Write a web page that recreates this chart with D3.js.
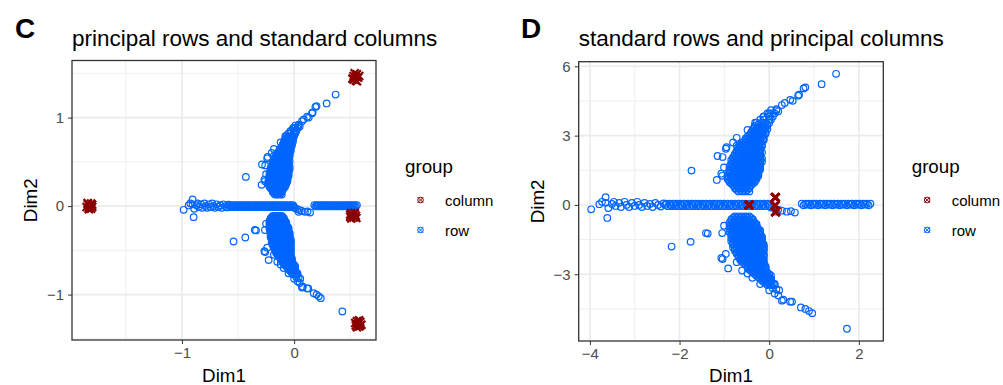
<!DOCTYPE html>
<html>
<head>
<meta charset="utf-8">
<script src="https://cdn.jsdelivr.net/npm/d3@7"></script>
<style>
    body { margin: 0; background: #fff; }
    svg text { font-family: "Liberation Sans", Arial, Helvetica, sans-serif; }
</style>
</head>
<body>
<div id="chart"></div>
<script>
// Singular values (sqrt eigenvalues) of dim1 / dim2 -- principal = standard * sv
const singularValues = [0.248, 0.222];

// Row principal coordinates (panel C), dense parts kept as scanlines [dim2, [dim1...]]
const upperArmRows = [
    [0.13, [-0.17, -0.15, -0.13, -0.11]],
    [0.145, [-0.18, -0.16, -0.14, -0.12]],
    [0.16, [-0.19, -0.17, -0.15, -0.13, -0.11]],
    [0.175, [-0.19, -0.17, -0.15, -0.13, -0.11]],
    [0.19, [-0.20, -0.18, -0.16, -0.14, -0.12, -0.10]],
    [0.205, [-0.21, -0.19, -0.17, -0.15, -0.13, -0.11, -0.09]],
    [0.22, [-0.22, -0.20, -0.18, -0.16, -0.14, -0.12, -0.10, -0.08]],
    [0.235, [-0.22, -0.20, -0.18, -0.16, -0.14, -0.12, -0.10, -0.08]],
    [0.25, [-0.23, -0.21, -0.19, -0.17, -0.15, -0.13, -0.11, -0.09, -0.07]],
    [0.265, [-0.23, -0.21, -0.19, -0.17, -0.15, -0.13, -0.11, -0.09, -0.07]],
    [0.28, [-0.23, -0.21, -0.19, -0.17, -0.15, -0.13, -0.11, -0.09, -0.07, -0.06]],
    [0.295, [-0.22, -0.20, -0.18, -0.16, -0.14, -0.12, -0.10, -0.08, -0.06]],
    [0.31, [-0.22, -0.20, -0.18, -0.16, -0.14, -0.12, -0.10, -0.08, -0.06]],
    [0.325, [-0.22, -0.20, -0.18, -0.16, -0.14, -0.12, -0.10, -0.08, -0.06]],
    [0.34, [-0.22, -0.20, -0.18, -0.16, -0.14, -0.12, -0.10, -0.08, -0.06, -0.05]],
    [0.355, [-0.21, -0.19, -0.17, -0.15, -0.13, -0.11, -0.09, -0.07, -0.05]],
    [0.37, [-0.22, -0.20, -0.18, -0.16, -0.14, -0.12, -0.10, -0.08, -0.06, -0.05]],
    [0.385, [-0.21, -0.19, -0.17, -0.15, -0.13, -0.11, -0.09, -0.07, -0.05]],
    [0.40, [-0.21, -0.19, -0.17, -0.15, -0.13, -0.11, -0.09, -0.07, -0.05]],
    [0.415, [-0.20, -0.18, -0.16, -0.14, -0.12, -0.10, -0.08, -0.06, -0.04]],
    [0.43, [-0.21, -0.19, -0.17, -0.15, -0.13, -0.11, -0.09, -0.07, -0.05]],
    [0.445, [-0.20, -0.18, -0.16, -0.14, -0.12, -0.10, -0.08, -0.06, -0.04]],
    [0.46, [-0.20, -0.18, -0.16, -0.14, -0.12, -0.10, -0.08, -0.06, -0.05]],
    [0.475, [-0.19, -0.17, -0.15, -0.13, -0.11, -0.09, -0.07, -0.05]],
    [0.49, [-0.19, -0.17, -0.15, -0.13, -0.11, -0.09, -0.07, -0.05]],
    [0.505, [-0.18, -0.16, -0.14, -0.12, -0.10, -0.08, -0.06, -0.04]],
    [0.52, [-0.18, -0.16, -0.14, -0.12, -0.10, -0.08, -0.06, -0.05]],
    [0.535, [-0.17, -0.15, -0.13, -0.11, -0.09, -0.07, -0.05]],
    [0.55, [-0.17, -0.15, -0.13, -0.11, -0.09, -0.07, -0.05]],
    [0.565, [-0.16, -0.14, -0.12, -0.10, -0.08, -0.06, -0.04]],
    [0.58, [-0.16, -0.14, -0.12, -0.10, -0.08, -0.06, -0.04]],
    [0.595, [-0.15, -0.13, -0.11, -0.09, -0.07, -0.05]],
    [0.61, [-0.14, -0.12, -0.10, -0.08, -0.06, -0.04]],
    [0.625, [-0.13, -0.11, -0.09, -0.07, -0.05, -0.03]],
    [0.64, [-0.13, -0.11, -0.09, -0.07, -0.05, -0.03]],
    [0.655, [-0.12, -0.10, -0.08, -0.06, -0.04]],
    [0.67, [-0.11, -0.09, -0.07, -0.05, -0.03]],
    [0.685, [-0.10, -0.08, -0.06, -0.04, -0.02]],
    [0.70, [-0.10, -0.08, -0.06, -0.04, -0.02]],
    [0.715, [-0.09, -0.07, -0.05, -0.03]],
    [0.73, [-0.09, -0.07, -0.05, -0.03, -0.01]],
    [0.745, [-0.08, -0.06, -0.04, -0.02]],
    [0.76, [-0.08, -0.05, -0.03, -0.01]],
    [0.775, [-0.06, -0.03, -0.01]],
    [0.79, [-0.07, -0.04, -0.02, 0.00]],
    [0.82, [-0.05, -0.03, 0.00, 0.01]],
    [0.85, [-0.03, 0.00, 0.02]],
    [0.88, [-0.01, 0.01, 0.03]],
    [0.91, [0.01, 0.04]]
];

const lowerArmRows = [
    [-0.11, [-0.19, -0.17, -0.15, -0.13, -0.11]],
    [-0.125, [-0.20, -0.18, -0.16, -0.14, -0.12, -0.10]],
    [-0.14, [-0.21, -0.19, -0.17, -0.15, -0.13, -0.11, -0.09]],
    [-0.155, [-0.21, -0.19, -0.17, -0.15, -0.13, -0.11, -0.09]],
    [-0.17, [-0.22, -0.20, -0.18, -0.16, -0.14, -0.12, -0.10, -0.08]],
    [-0.185, [-0.21, -0.19, -0.17, -0.15, -0.13, -0.11, -0.09, -0.07]],
    [-0.20, [-0.22, -0.20, -0.18, -0.16, -0.14, -0.12, -0.10, -0.08, -0.07]],
    [-0.215, [-0.21, -0.19, -0.17, -0.15, -0.13, -0.11, -0.09, -0.07]],
    [-0.23, [-0.22, -0.20, -0.18, -0.16, -0.14, -0.12, -0.10, -0.08, -0.06]],
    [-0.245, [-0.21, -0.19, -0.17, -0.15, -0.13, -0.11, -0.09, -0.07, -0.05]],
    [-0.26, [-0.22, -0.20, -0.18, -0.16, -0.14, -0.12, -0.10, -0.08, -0.06, -0.05]],
    [-0.275, [-0.21, -0.19, -0.17, -0.15, -0.13, -0.11, -0.09, -0.07, -0.05]],
    [-0.29, [-0.21, -0.19, -0.17, -0.15, -0.13, -0.11, -0.09, -0.07, -0.05]],
    [-0.305, [-0.20, -0.18, -0.16, -0.14, -0.12, -0.10, -0.08, -0.06, -0.04]],
    [-0.32, [-0.21, -0.19, -0.17, -0.15, -0.13, -0.11, -0.09, -0.07, -0.05, -0.04]],
    [-0.335, [-0.20, -0.18, -0.16, -0.14, -0.12, -0.10, -0.08, -0.06, -0.04]],
    [-0.35, [-0.21, -0.19, -0.17, -0.15, -0.13, -0.11, -0.09, -0.07, -0.05, -0.04]],
    [-0.365, [-0.20, -0.18, -0.16, -0.14, -0.12, -0.10, -0.08, -0.06, -0.04]],
    [-0.38, [-0.20, -0.18, -0.16, -0.14, -0.12, -0.10, -0.08, -0.06, -0.04, -0.03]],
    [-0.395, [-0.19, -0.17, -0.15, -0.13, -0.11, -0.09, -0.07, -0.05, -0.03]],
    [-0.41, [-0.20, -0.18, -0.16, -0.14, -0.12, -0.10, -0.08, -0.06, -0.04, -0.03]],
    [-0.425, [-0.19, -0.17, -0.15, -0.13, -0.11, -0.09, -0.07, -0.05, -0.03]],
    [-0.44, [-0.19, -0.17, -0.15, -0.13, -0.11, -0.09, -0.07, -0.05, -0.03]],
    [-0.455, [-0.18, -0.16, -0.14, -0.12, -0.10, -0.08, -0.06, -0.04]],
    [-0.47, [-0.18, -0.16, -0.14, -0.12, -0.10, -0.08, -0.06, -0.04, -0.03]],
    [-0.485, [-0.17, -0.15, -0.13, -0.11, -0.09, -0.07, -0.05, -0.03]],
    [-0.50, [-0.17, -0.15, -0.13, -0.11, -0.09, -0.07, -0.05, -0.03]],
    [-0.515, [-0.16, -0.14, -0.12, -0.10, -0.08, -0.06, -0.04]],
    [-0.53, [-0.16, -0.14, -0.12, -0.10, -0.08, -0.06, -0.04, -0.03]],
    [-0.545, [-0.15, -0.13, -0.11, -0.09, -0.07, -0.05, -0.03]],
    [-0.56, [-0.14, -0.12, -0.10, -0.08, -0.06, -0.04, -0.03]],
    [-0.575, [-0.13, -0.11, -0.09, -0.07, -0.05, -0.03]],
    [-0.59, [-0.12, -0.10, -0.08, -0.06, -0.04, -0.02]],
    [-0.605, [-0.12, -0.10, -0.08, -0.06, -0.04, -0.02]],
    [-0.62, [-0.11, -0.09, -0.07, -0.05, -0.03, -0.02]],
    [-0.635, [-0.10, -0.08, -0.06, -0.04, -0.02]],
    [-0.65, [-0.09, -0.07, -0.05, -0.03, -0.01]],
    [-0.665, [-0.08, -0.06, -0.04, -0.02, 0.00]],
    [-0.68, [-0.07, -0.05, -0.03, -0.01, 0.01]],
    [-0.695, [-0.06, -0.04, -0.02, 0.00]],
    [-0.71, [-0.05, -0.03, -0.01, 0.01]],
    [-0.725, [-0.04, -0.02, 0.00]],
    [-0.74, [-0.03, -0.01, 0.01]],
    [-0.755, [-0.02, 0.00, 0.02]],
    [-0.77, [-0.01, 0.01, 0.03]]
];

const leftBandRows = [
    [0.012, [-0.57, -0.55, -0.53, -0.51, -0.49, -0.47, -0.45, -0.43, -0.41, -0.39, -0.37, -0.35, -0.33, -0.31, -0.29,
             -0.27, -0.25, -0.23, -0.21, -0.19, -0.17, -0.15, -0.13, -0.11, -0.09, -0.07, -0.05, -0.03, -0.01]],
    [0.0, [-0.575, -0.545, -0.515, -0.485, -0.455, -0.425, -0.395, -0.365, -0.335, -0.305, -0.275, -0.245,
           -0.215, -0.185, -0.155, -0.125, -0.095, -0.065, -0.035, -0.005]],
    [-0.012, [-0.56, -0.54, -0.52, -0.50, -0.48, -0.46, -0.44, -0.42, -0.40, -0.38, -0.36, -0.34, -0.32, -0.30, -0.28,
              -0.26, -0.24, -0.22, -0.20, -0.18, -0.16, -0.14, -0.12, -0.10, -0.08, -0.06, -0.04, -0.02, 0.00]]
];

const rightBandRows = [
    [0.012, [0.18, 0.20, 0.22, 0.24, 0.26, 0.28, 0.30, 0.32, 0.34, 0.36, 0.38, 0.40, 0.42, 0.44, 0.46, 0.48, 0.50, 0.52, 0.54, 0.56]],
    [0.002, [0.21, 0.25, 0.29, 0.33, 0.37, 0.41, 0.45, 0.49, 0.53]],
    [-0.004, [0.19, 0.23, 0.27, 0.31, 0.35, 0.39, 0.43, 0.47, 0.51, 0.55]]
];

// Sparse rows [dim1, dim2]
const leftBandSparse = [
    [-0.985, -0.042], [-0.94, 0.007], [-0.925, 0.03], [-0.905, 0.075], [-0.896, -0.125], [-0.905, 0.02],
    [-0.89, -0.03], [-0.87, 0.01], [-0.86, 0.03], [-0.85, -0.01], [-0.83, 0.02], [-0.82, -0.02], [-0.80, 0.03],
    [-0.79, 0.0], [-0.775, -0.02], [-0.76, 0.02], [-0.745, -0.01], [-0.73, 0.03], [-0.72, 0.0], [-0.705, -0.02],
    [-0.69, 0.02], [-0.675, -0.01], [-0.66, 0.01], [-0.645, -0.02], [-0.63, 0.02], [-0.615, 0.0],
    [-0.60, -0.015], [-0.585, 0.015]
];

const bandTaper = [
    [0.01, -0.025], [0.03, -0.035], [0.05, -0.045], [0.04, -0.065], [0.07, -0.055],
    [0.097, -0.065], [0.12, -0.06], [0.142, -0.073]
];

const upperSparse = [
    [-0.43, 0.33], [-0.29, 0.24], [-0.265, 0.30], [-0.286, 0.47], [-0.258, 0.46], [-0.24, 0.54],
    [-0.236, 0.555], [-0.18, 0.645], [-0.18, 0.57], [-0.20, 0.60], [-0.26, 0.28], [-0.25, 0.36],
    [-0.12, 0.72], [-0.078, 0.79], [-0.033, 0.845], [0.0, 0.88], [0.04, 0.92], [0.05, 0.90],
    [0.07, 0.96], [0.086, 0.98], [0.116, 1.01], [0.13, 1.0], [0.16, 1.05], [0.165, 1.06],
    [0.19, 1.12], [0.20, 1.13], [0.29, 1.16], [0.37, 1.26]
];

const lowerSparse = [
    [-0.54, -0.40], [-0.435, -0.355], [-0.34, -0.275], [-0.35, -0.27], [-0.26, -0.27], [-0.25, -0.20],
    [-0.258, -0.52], [-0.24, -0.47], [-0.265, -0.51], [-0.227, -0.61], [-0.15, -0.63], [-0.18, -0.55],
    [-0.093, -0.70], [-0.12, -0.66], [-0.05, -0.76], [0.0, -0.82], [0.03, -0.85], [0.05, -0.87],
    [0.02, -0.80], [0.04, -0.81], [0.055, -0.82], [0.01, -0.72], [0.03, -0.76],
    [0.07, -0.92], [0.078, -0.91], [0.116, -0.93], [0.126, -0.93], [0.175, -0.985], [0.20, -1.0],
    [0.22, -1.02], [0.238, -1.04], [0.43, -1.19]
];

// Column standard coordinates (panel C), four tight clusters
const columnPoints = [
    [-1.84, 0.02], [-1.81, 0.03], [-1.83, -0.02], [-1.80, -0.01], [-1.85, -0.01],
    [-1.82, 0.0], [-1.81, -0.03], [-1.84, 0.035], [-1.83, -0.035], [-1.80, 0.015],
    [0.53, 1.47], [0.56, 1.49], [0.55, 1.42], [0.57, 1.45], [0.52, 1.44],
    [0.54, 1.50], [0.56, 1.41], [0.53, 1.43], [0.58, 1.47], [0.55, 1.46],
    [0.51, -0.08], [0.54, -0.09], [0.50, -0.12], [0.53, -0.13], [0.55, -0.11],
    [0.51, -0.14], [0.54, -0.075], [0.52, -0.10], [0.555, -0.135], [0.50, -0.095],
    [0.56, -1.30], [0.59, -1.31], [0.55, -1.35], [0.58, -1.36], [0.57, -1.33],
    [0.60, -1.34], [0.56, -1.37], [0.58, -1.29], [0.545, -1.32], [0.59, -1.35]
];

const groups = ["column", "row"];
const groupColors = ["#8B0000", "#0066FF"];

// flatten everything into one row list
let rowPrincipal = [];
[upperArmRows, lowerArmRows, leftBandRows, rightBandRows].forEach(block => {
    block.forEach(([y, xs]) => xs.forEach(x => rowPrincipal.push([x, y])));
});
rowPrincipal = rowPrincipal.concat(leftBandSparse, bandTaper, upperSparse, lowerSparse);

const color = d3.scaleOrdinal().domain(groups).range(groupColors);

const svg = d3.select("#chart").append("svg")
    .attr("width", 1003)
    .attr("height", 385);

function drawPanel(cfg) {
    let g = svg.append("g");

    let x = d3.scaleLinear().domain(cfg.xDomain).range([cfg.left, cfg.left + cfg.width]);
    let y = d3.scaleLinear().domain(cfg.yDomain).range([cfg.top + cfg.height, cfg.top]);

    // grid
    g.selectAll(".vminor").data(cfg.xMinor).enter().append("line")
        .attr("x1", d => x(d)).attr("x2", d => x(d))
        .attr("y1", cfg.top).attr("y2", cfg.top + cfg.height)
        .attr("stroke", "#EBEBEB").attr("stroke-width", 0.8);
    g.selectAll(".hminor").data(cfg.yMinor).enter().append("line")
        .attr("y1", d => y(d)).attr("y2", d => y(d))
        .attr("x1", cfg.left).attr("x2", cfg.left + cfg.width)
        .attr("stroke", "#EBEBEB").attr("stroke-width", 0.8);
    g.selectAll(".vmajor").data(cfg.xTicks).enter().append("line")
        .attr("x1", d => x(d)).attr("x2", d => x(d))
        .attr("y1", cfg.top).attr("y2", cfg.top + cfg.height)
        .attr("stroke", "#EBEBEB").attr("stroke-width", 1.6);
    g.selectAll(".hmajor").data(cfg.yTicks).enter().append("line")
        .attr("y1", d => y(d)).attr("y2", d => y(d))
        .attr("x1", cfg.left).attr("x2", cfg.left + cfg.width)
        .attr("stroke", "#EBEBEB").attr("stroke-width", 1.6);

    // rows
    g.append("g").selectAll("circle").data(cfg.rows).enter().append("circle")
        .attr("cx", d => x(d[0]))
        .attr("cy", d => y(d[1]))
        .attr("r", 3.3)
        .attr("fill", "none")
        .attr("stroke", color("row"))
        .attr("stroke-width", 1.2);

    // columns
    g.append("g").selectAll("path").data(cfg.cols).enter().append("path")
        .attr("transform", d => `translate(${x(d[0])},${y(d[1])})`)
        .attr("d", "M-4,-4L4,4M-4,4L4,-4")
        .attr("stroke", color("column"))
        .attr("stroke-width", 2.2);

    // border
    g.append("rect")
        .attr("x", cfg.left).attr("y", cfg.top)
        .attr("width", cfg.width).attr("height", cfg.height)
        .attr("fill", "none").attr("stroke", "#333333").attr("stroke-width", 1.3);

    // axes
    let xAxis = d3.axisBottom(x).tickValues(cfg.xTicks).tickSize(4).tickPadding(3).tickFormat(d3.format(""));
    let yAxis = d3.axisLeft(y).tickValues(cfg.yTicks).tickSize(4).tickPadding(4).tickFormat(d3.format(""));

    let xg = g.append("g").attr("transform", `translate(0,${cfg.top + cfg.height})`).call(xAxis);
    let yg = g.append("g").attr("transform", `translate(${cfg.left},0)`).call(yAxis);
    [xg, yg].forEach(a => {
        a.select(".domain").remove();
        a.selectAll(".tick line").attr("stroke", "#333333").attr("stroke-width", 1);
        a.selectAll(".tick text").attr("fill", "#4D4D4D").style("font-size", "15px")
            .style("font-family", "'Liberation Sans', Arial, sans-serif");
    });

    // axis titles
    g.append("text")
        .attr("x", cfg.left + cfg.width / 2).attr("y", 382)
        .attr("text-anchor", "middle").style("font-size", "18.75px")
        .text("Dim1");
    g.append("text")
        .attr("transform", `translate(${cfg.left - 35},${cfg.top + cfg.height / 2}) rotate(-90)`)
        .attr("text-anchor", "middle").style("font-size", "18.75px")
        .text("Dim2");

    // title and panel letter
    g.append("text")
        .attr("x", cfg.left).attr("y", 46)
        .style("font-size", "22.5px")
        .text(cfg.title);
    g.append("text")
        .attr("x", cfg.letterX).attr("y", 38)
        .style("font-size", "28px").style("font-weight", "bold")
        .text(cfg.letter);

    // legend
    let lg = g.append("g").attr("transform", `translate(${cfg.legendX},0)`);
    lg.append("text").attr("x", 0).attr("y", 173).style("font-size", "18.75px").text("group");
    groups.forEach((grp, i) => {
        let key = lg.append("g").attr("transform", `translate(15.5,${200 + i * 30})`);
        key.append("circle").attr("r", 2.8).attr("fill", "none")
            .attr("stroke", color(grp)).attr("stroke-width", 1);
        key.append("path").attr("d", "M-2.8,-2.8L2.8,2.8M-2.8,2.8L2.8,-2.8")
            .attr("stroke", color(grp)).attr("stroke-width", 1);
        lg.append("text").attr("x", 40).attr("y", 200 + i * 30 + 5.5)
            .style("font-size", "15px").text(grp);
    });
}

// Panel C: principal rows, standard columns
drawPanel({
    left: 72, top: 60.5, width: 304, height: 279.5,
    xDomain: [-1.98, 0.73], yDomain: [-1.513, 1.645],
    xTicks: [-1, 0], yTicks: [-1, 0, 1],
    xMinor: [-1.5, -0.5, 0.5], yMinor: [-1.5, -0.5, 0.5, 1.5],
    rows: rowPrincipal,
    cols: columnPoints,
    title: "principal rows and standard columns",
    letter: "C", letterX: 15,
    legendX: 405
});

// Panel D: standard rows, principal columns
drawPanel({
    left: 578.7, top: 61.7, width: 304.6, height: 279.3,
    xDomain: [-4.25, 2.545], yDomain: [-5.89, 6.2],
    xTicks: [-4, -2, 0, 2], yTicks: [-3, 0, 3, 6],
    xMinor: [-3, -1, 1], yMinor: [-4.5, -1.5, 1.5, 4.5],
    rows: rowPrincipal.map(d => [d[0] / singularValues[0], d[1] / singularValues[1]]),
    cols: columnPoints.map(d => [d[0] * singularValues[0], d[1] * singularValues[1]]),
    title: "standard rows and principal columns",
    letter: "D", letterX: 521,
    legendX: 911.7
});
</script>
</body>
</html>
